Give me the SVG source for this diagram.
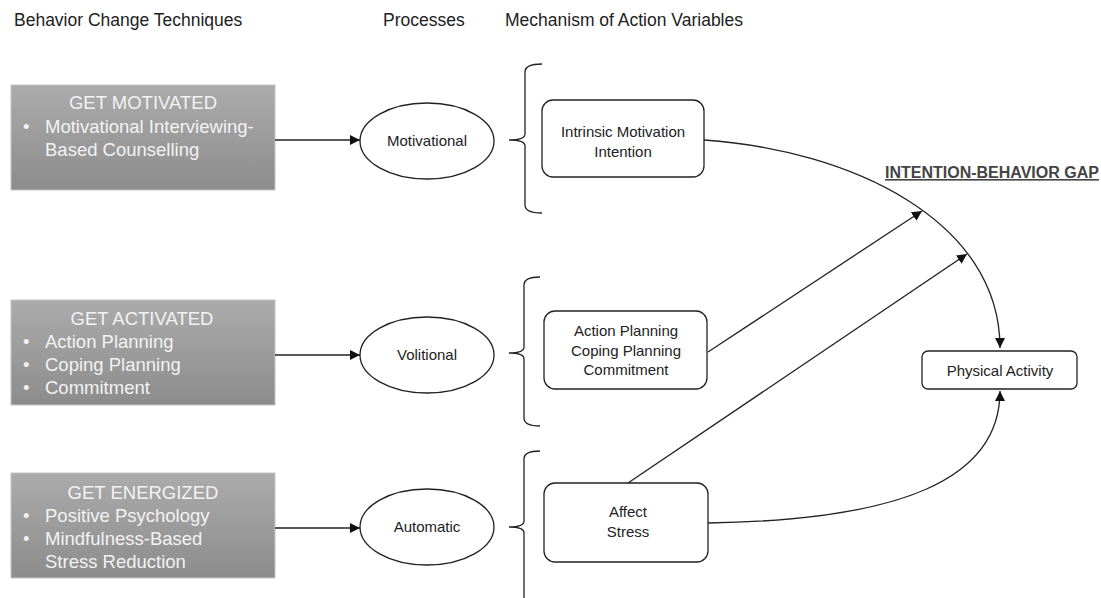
<svg xmlns="http://www.w3.org/2000/svg" width="1101" height="598" viewBox="0 0 1101 598">
<defs>
<linearGradient id="gray" x1="0" y1="0" x2="0" y2="1">
<stop offset="0" stop-color="#ababab"/>
<stop offset="1" stop-color="#8c8c8c"/>
</linearGradient>
<marker id="arr" viewBox="0 0 10 10" refX="10" refY="5" markerWidth="10" markerHeight="10" markerUnits="userSpaceOnUse" orient="auto">
<path d="M0,0 L10,5 L0,10 Z" fill="#111"/>
</marker>
</defs>
<style>
text{font-family:"Liberation Sans",Arial,sans-serif;}
.hdr{font-size:17.5px;fill:#222;}
.bt{font-size:18.5px;fill:#f2f2f2;}
.box{fill:url(#gray);stroke:#c4c4c4;stroke-width:1;}
.ell{fill:#fff;stroke:#222;stroke-width:1.3;}
.rr{fill:#fff;stroke:#222;stroke-width:1.3;}
.lbl{font-size:15px;fill:#222;text-anchor:middle;}
.ln{fill:none;stroke:#222;stroke-width:1.3;}
.br{fill:none;stroke:#222;stroke-width:1.3;}
.gap{font-size:16px;font-weight:bold;fill:#444;text-decoration:underline;}
</style>
<rect width="1101" height="598" fill="#fff"/>
<g id="headers">
<text class="hdr" x="14" y="26">Behavior Change Techniques</text>
<text class="hdr" x="383" y="26">Processes</text>
<text class="hdr" x="505" y="26">Mechanism of Action Variables</text>
</g>
<g id="bct-motivated">
<rect class="box" x="11" y="85" width="264" height="105"/>
<text class="bt" x="143" y="109" text-anchor="middle">GET MOTIVATED</text>
<text class="bt" x="23" y="133">•</text>
<text class="bt" x="45" y="133">Motivational Interviewing-</text>
<text class="bt" x="45" y="156">Based Counselling</text>
</g>
<g id="bct-activated">
<rect class="box" x="11" y="300" width="264" height="105"/>
<text class="bt" x="142" y="325" text-anchor="middle">GET ACTIVATED</text>
<text class="bt" x="23" y="348">•</text>
<text class="bt" x="45" y="348">Action Planning</text>
<text class="bt" x="23" y="371">•</text>
<text class="bt" x="45" y="371">Coping Planning</text>
<text class="bt" x="23" y="394">•</text>
<text class="bt" x="45" y="394">Commitment</text>
</g>
<g id="bct-energized">
<rect class="box" x="11" y="473" width="264" height="105"/>
<text class="bt" x="143" y="499" text-anchor="middle">GET ENERGIZED</text>
<text class="bt" x="23" y="522">•</text>
<text class="bt" x="45" y="522">Positive Psychology</text>
<text class="bt" x="23" y="545">•</text>
<text class="bt" x="45" y="545">Mindfulness-Based</text>
<text class="bt" x="45" y="568">Stress Reduction</text>
</g>
<g id="proc-motivational">
<ellipse class="ell" cx="427" cy="141" rx="67" ry="38"/>
<text class="lbl" x="427" y="146">Motivational</text>
</g>
<g id="proc-volitional">
<ellipse class="ell" cx="427" cy="355" rx="67" ry="38"/>
<text class="lbl" x="427" y="360">Volitional</text>
</g>
<g id="proc-automatic">
<ellipse class="ell" cx="427" cy="527" rx="67" ry="38"/>
<text class="lbl" x="427" y="532">Automatic</text>
</g>
<g id="braces">
<path class="br" d="M542,64 Q525,64 525,72 L525,134 Q525,140 509,140 Q525,140 525,146 L525,205 Q525,213 542,213"/>
<path class="br" d="M540,277 Q524,277 524,285 L524,347 Q524,353 509,353 Q524,353 524,359 L524,418 Q524,426 540,426"/>
<path class="br" d="M540,451 Q524,451 524,459 L524,521 Q524,527 509,527 Q524,527 524,533 L524,600"/>
</g>
<g id="mav-motivation">
<rect class="rr" x="542" y="100" width="162" height="77" rx="11"/>
<text class="lbl" x="623" y="137">Intrinsic Motivation</text>
<text class="lbl" x="623" y="157">Intention</text>
</g>
<g id="mav-planning">
<rect class="rr" x="544" y="311" width="163" height="78" rx="11"/>
<text class="lbl" x="626" y="336">Action Planning</text>
<text class="lbl" x="626" y="356">Coping  Planning</text>
<text class="lbl" x="626" y="375">Commitment</text>
</g>
<g id="mav-affect">
<rect class="rr" x="544" y="483" width="164" height="79" rx="11"/>
<text class="lbl" x="628" y="517">Affect</text>
<text class="lbl" x="628" y="537">Stress</text>
</g>
<g id="physical-activity">
<rect class="rr" x="922" y="351" width="155" height="38" rx="6"/>
<text class="lbl" x="1000" y="376">Physical Activity</text>
</g>
<g id="gap-label">
<text class="gap" x="885" y="178">INTENTION-BEHAVIOR  GAP</text>
</g>
<g id="connectors">
<line class="ln" x1="275" y1="140" x2="360" y2="140" marker-end="url(#arr)"/>
<line class="ln" x1="275" y1="355" x2="360" y2="355" marker-end="url(#arr)"/>
<line class="ln" x1="275" y1="528" x2="360" y2="528" marker-end="url(#arr)"/>
<path class="ln" d="M704,140 C850,150 1000,220 1000,348" marker-end="url(#arr)"/>
<line class="ln" x1="708" y1="352" x2="922" y2="211" marker-end="url(#arr)"/>
<line class="ln" x1="628" y1="483" x2="967" y2="254" marker-end="url(#arr)"/>
<path class="ln" d="M708,523 C900,520 1000,480 1000,391" marker-end="url(#arr)"/>
</g>
</svg>
